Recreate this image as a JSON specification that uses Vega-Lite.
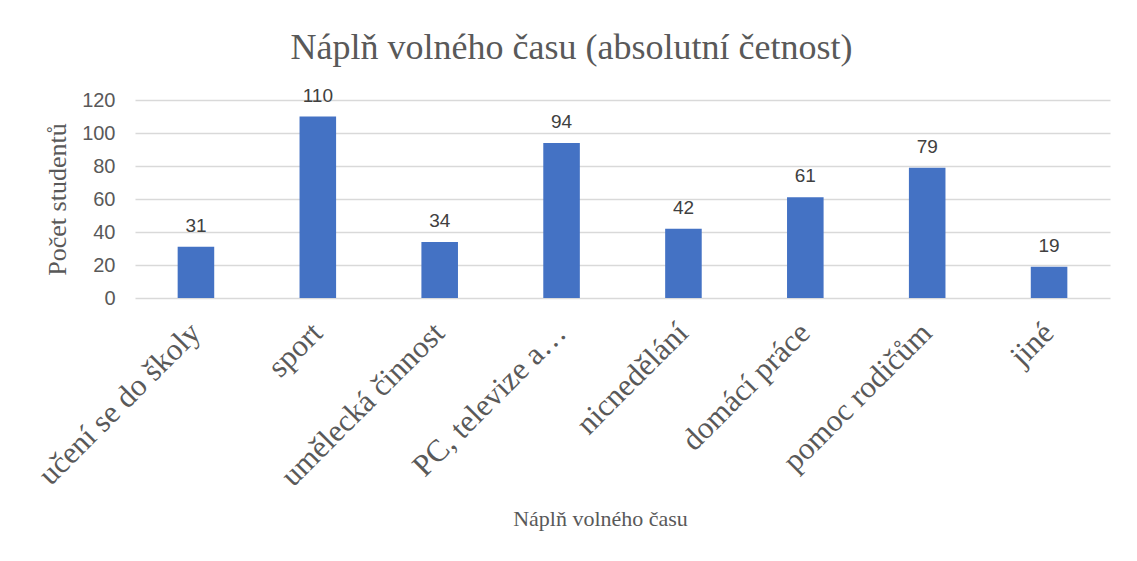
{
  "$schema": "https://vega.github.io/schema/vega-lite/v6.json",
  "width": 975,
  "height": 198,
  "autosize": {"type": "none"},
  "padding": {"left": 135, "top": 100, "right": 27, "bottom": 263},
  "background": "white",
  "config": {"view": {"stroke": null}},
  "title": {
    "text": "Náplň volného času (absolutní četnost)",
    "font": "Liberation Serif",
    "fontSize": 36,
    "fontWeight": "normal",
    "color": "#595959",
    "frame": "group",
    "anchor": "middle",
    "baseline": "alphabetic",
    "offset": -8,
    "dx": -51
  },
  "data": {
    "values": [
      {"kategorie": "učení se do školy", "pocet": 31},
      {"kategorie": "sport", "pocet": 110},
      {"kategorie": "umělecká činnost", "pocet": 34},
      {"kategorie": "PC, televize a…", "pocet": 94},
      {"kategorie": "nicnedělání", "pocet": 42},
      {"kategorie": "domácí práce", "pocet": 61},
      {"kategorie": "pomoc rodičům", "pocet": 79},
      {"kategorie": "jiné", "pocet": 19}
    ]
  },
  "encoding": {
    "x": {
      "field": "kategorie",
      "type": "nominal",
      "sort": null,
      "scale": {"paddingInner": 0.7, "paddingOuter": 0.35},
      "axis": {
        "title": "Náplň volného času",
        "titleFont": "Liberation Serif",
        "titleFontSize": 22,
        "titleFontWeight": "normal",
        "titleColor": "#595959",
        "titleX": 465,
        "titleY": 220,
        "titleAlign": "center",
        "titleBaseline": "middle",
        "labelAngle": -45,
        "labelAlign": "right",
        "labelBaseline": "middle",
        "labelFont": "Liberation Serif",
        "labelFontSize": 31,
        "labelColor": "#595959",
        "labelPadding": 30,
        "labelLimit": 400,
        "ticks": false,
        "domain": false,
        "grid": false
      }
    },
    "y": {
      "field": "pocet",
      "type": "quantitative",
      "scale": {"domain": [0, 120], "nice": false},
      "axis": {
        "values": [0, 20, 40, 60, 80, 100, 120],
        "title": "Počet studentů",
        "titleFont": "Liberation Serif",
        "titleFontSize": 26,
        "titleFontWeight": "normal",
        "titleColor": "#595959",
        "titleX": -78,
        "titleY": 99,
        "titleAngle": -90,
        "titleAlign": "center",
        "titleBaseline": "middle",
        "labelFont": "Liberation Sans",
        "labelFontSize": 20,
        "labelColor": "#595959",
        "labelPadding": 20,
        "ticks": false,
        "domain": false,
        "grid": true,
        "gridColor": "#d9d9d9",
        "gridWidth": 1.5
      }
    }
  },
  "layer": [
    {"mark": {"type": "bar", "color": "#4472C4"}},
    {
      "mark": {
        "type": "text",
        "font": "Liberation Sans",
        "fontSize": 19,
        "color": "#404040",
        "baseline": "alphabetic",
        "dy": -15
      },
      "encoding": {"text": {"field": "pocet", "type": "quantitative"}}
    }
  ]
}
